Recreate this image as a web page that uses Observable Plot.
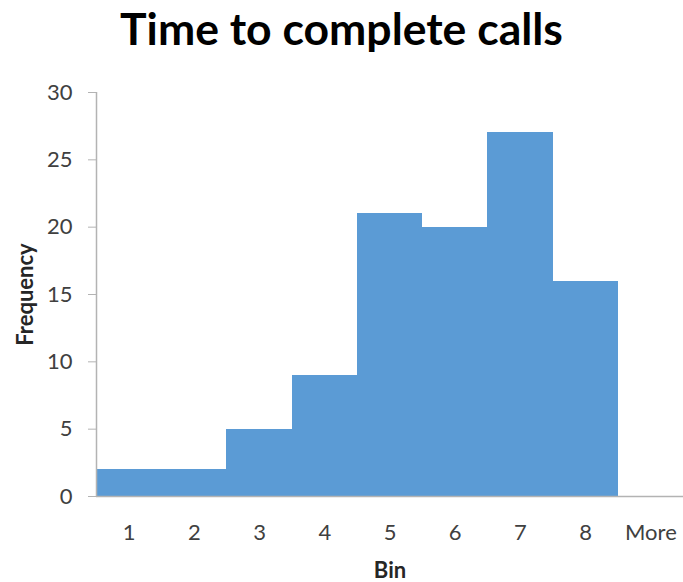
<!DOCTYPE html>
<html>
<head>
<meta charset="utf-8">
<script src="https://cdn.jsdelivr.net/npm/d3@7"></script>
<script src="https://cdn.jsdelivr.net/npm/@observablehq/plot@0.6"></script>
<style>
  html, body { margin: 0; padding: 0; background: white; }
  #title { height: 70px; line-height: 56px; text-align: center; font-family: Lato, sans-serif; font-weight: bold; font-size: 44.5px; color: #000; width: 683px; }
  #chart svg { display: block; }
</style>
</head>
<body>
<div id="title">Time to complete calls</div>
<div id="chart"></div>
<script>
const bins = ["1", "2", "3", "4", "5", "6", "7", "8", "More"];
const freq = [2, 2, 5, 9, 21, 20, 27, 16, 0];
const yTicks = [0, 5, 10, 15, 20, 25, 30];
const xLabel = "Bin";
const yLabel = "Frequency";

const data = bins.map((b, i) => ({bin: b, i, f: freq[i]}));

const chart = Plot.plot({
  width: 683,
  height: 512,
  marginLeft: 96,
  marginRight: 0,
  marginTop: 22,
  marginBottom: 86,
  style: {fontFamily: "Lato, sans-serif", fontSize: "22px", background: "white", color: "#404040"},
  x: {domain: [0, bins.length], axis: null},
  y: {domain: [0, 30], axis: null},
  marks: [
    Plot.rectY(data, {x1: "i", x2: d => d.i + 1, y: "f", fill: "#5B9BD5", inset: 0, shapeRendering: "crispEdges"}),
    Plot.ruleY([0], {stroke: "#b3b3b3", strokeWidth: 1.5}),
    Plot.ruleX([0], {stroke: "#b3b3b3", strokeWidth: 1.5}),
    Plot.axisY({ticks: yTicks, tickSize: 8, tickPadding: 16, label: null, stroke: "#b3b3b3", fill: "#404040"}),
    Plot.axisX({ticks: data.map(d => d.i + 0.5), tickFormat: v => bins[Math.floor(v)], tickSize: 0, tickPadding: 28, label: null, fill: "#404040"}),
    Plot.text([yLabel], {text: d => d, frameAnchor: "left", textAnchor: "middle", rotate: -90, dx: -71, fontWeight: "bold", fontSize: 22, fill: "#262626"}),
    Plot.text([xLabel], {text: d => d, frameAnchor: "bottom", dy: 81, fontWeight: "bold", fontSize: 22, fill: "#262626"})
  ]
});
document.getElementById("chart").appendChild(chart);
</script>
</body>
</html>
